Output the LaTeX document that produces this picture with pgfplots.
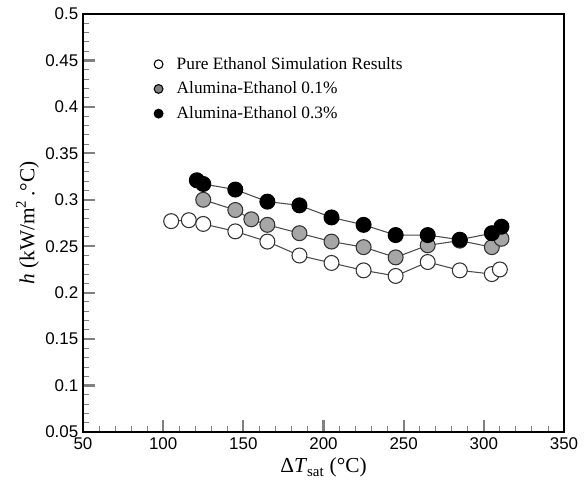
\documentclass[border=0pt]{standalone}
\usepackage{fontspec}
\setmainfont{Liberation Serif}
\setsansfont{Liberation Sans}
\usepackage{pgfplots}
\pgfplotsset{compat=1.18}
\begin{document}
\begin{tikzpicture}
\begin{axis}[
  scale only axis,
  width=360.75pt, height=313.5pt,
  xmin=50, xmax=350, ymin=0.05, ymax=0.5,
  xtick={50,100,150,200,250,300,350},
  xticklabels={50,100,150,200,250,300,350},
  ytick={0.05,0.1,0.15,0.2,0.25,0.3,0.35,0.4,0.45,0.5},
  yticklabels={0.05,0.1,0.15,0.2,0.25,0.3,0.35,0.4,0.45,0.5},
  minor x tick num=4, minor y tick num=4,
  tick pos=left, tick align=inside,
  major tick length=9pt, minor tick length=4.5pt,
  axis line style={line width=1.6pt},
  major tick style={line width=1.6pt},
  minor tick style={line width=0.7pt},
  tick label style={font=\sffamily\fontsize{12.7}{14}\selectfont},
  xticklabel style={yshift=-1pt},
  label style={font=\fontsize{16}{18}\selectfont},
  xlabel={Δ\textit{T}\textsubscript{sat} (°C)},
  ylabel={\textit{h} (kW/m\textsuperscript{2}\,.°C)},
  xlabel style={yshift=1pt},
  ylabel style={yshift=-2pt},
  legend style={at={(rel axis cs:0.12,0.91)}, anchor=north west, draw=none, fill=none,
    font=\fontsize{13}{15}\selectfont, row sep=4pt},
  legend cell align=left,
  legend image code/.code={\draw[#1] plot coordinates {(10pt,0cm)}; \path (0pt,0pt) (21.4pt,0pt);},
]
\addlegendimage{only marks, mark=*, mark size=3.3pt, mark options={fill=white, draw=black, line width=0.8pt}}
\addlegendentry{Pure Ethanol Simulation Results}
\addlegendimage{only marks, mark=*, mark size=3.3pt, mark options={fill=black!50, draw=black, line width=0.8pt}}
\addlegendentry{Alumina-Ethanol 0.1\%}
\addlegendimage{only marks, mark=*, mark size=3.3pt, mark options={fill=black, draw=black, line width=0.8pt}}
\addlegendentry{Alumina-Ethanol 0.3\%}

\addplot[forget plot, color=black!70, line width=0.8pt, mark=*, mark size=5.6pt,
  mark options={fill=white, draw=black!80, line width=0.8pt}] coordinates {
(105,0.277) (116,0.278) (125,0.274) (145,0.266) (165,0.255) (185,0.240) (205,0.232)
(225,0.224) (245,0.218) (265,0.233) (285,0.224) (305,0.220) (310,0.225)};
\addplot[forget plot, color=black!70, line width=0.8pt, mark=*, mark size=5.6pt,
  mark options={fill=black!35, draw=black!80, line width=0.8pt}] coordinates {
(125,0.300) (145,0.289) (155,0.279) (165,0.273) (185,0.264) (205,0.255) (225,0.249)
(245,0.238) (265,0.251) (285,0.256) (305,0.249) (311,0.258)};
\addplot[forget plot, color=black!70, line width=0.8pt, mark=*, mark size=5.6pt,
  mark options={fill=black, draw=black, line width=0.8pt}] coordinates {
(121,0.321) (125,0.317) (145,0.311) (165,0.298) (185,0.294) (205,0.281) (225,0.273)
(245,0.262) (265,0.262) (285,0.257) (305,0.264) (311,0.271)};
\coordinate (bl) at (rel axis cs:0,0);
\coordinate (tr) at (rel axis cs:1,1);
\end{axis}
\pgfresetboundingbox
\path ([shift={(-62.25pt,-36.75pt)}]bl) rectangle ([shift={(16.5pt,10.5pt)}]tr);
\end{tikzpicture}
\end{document}
